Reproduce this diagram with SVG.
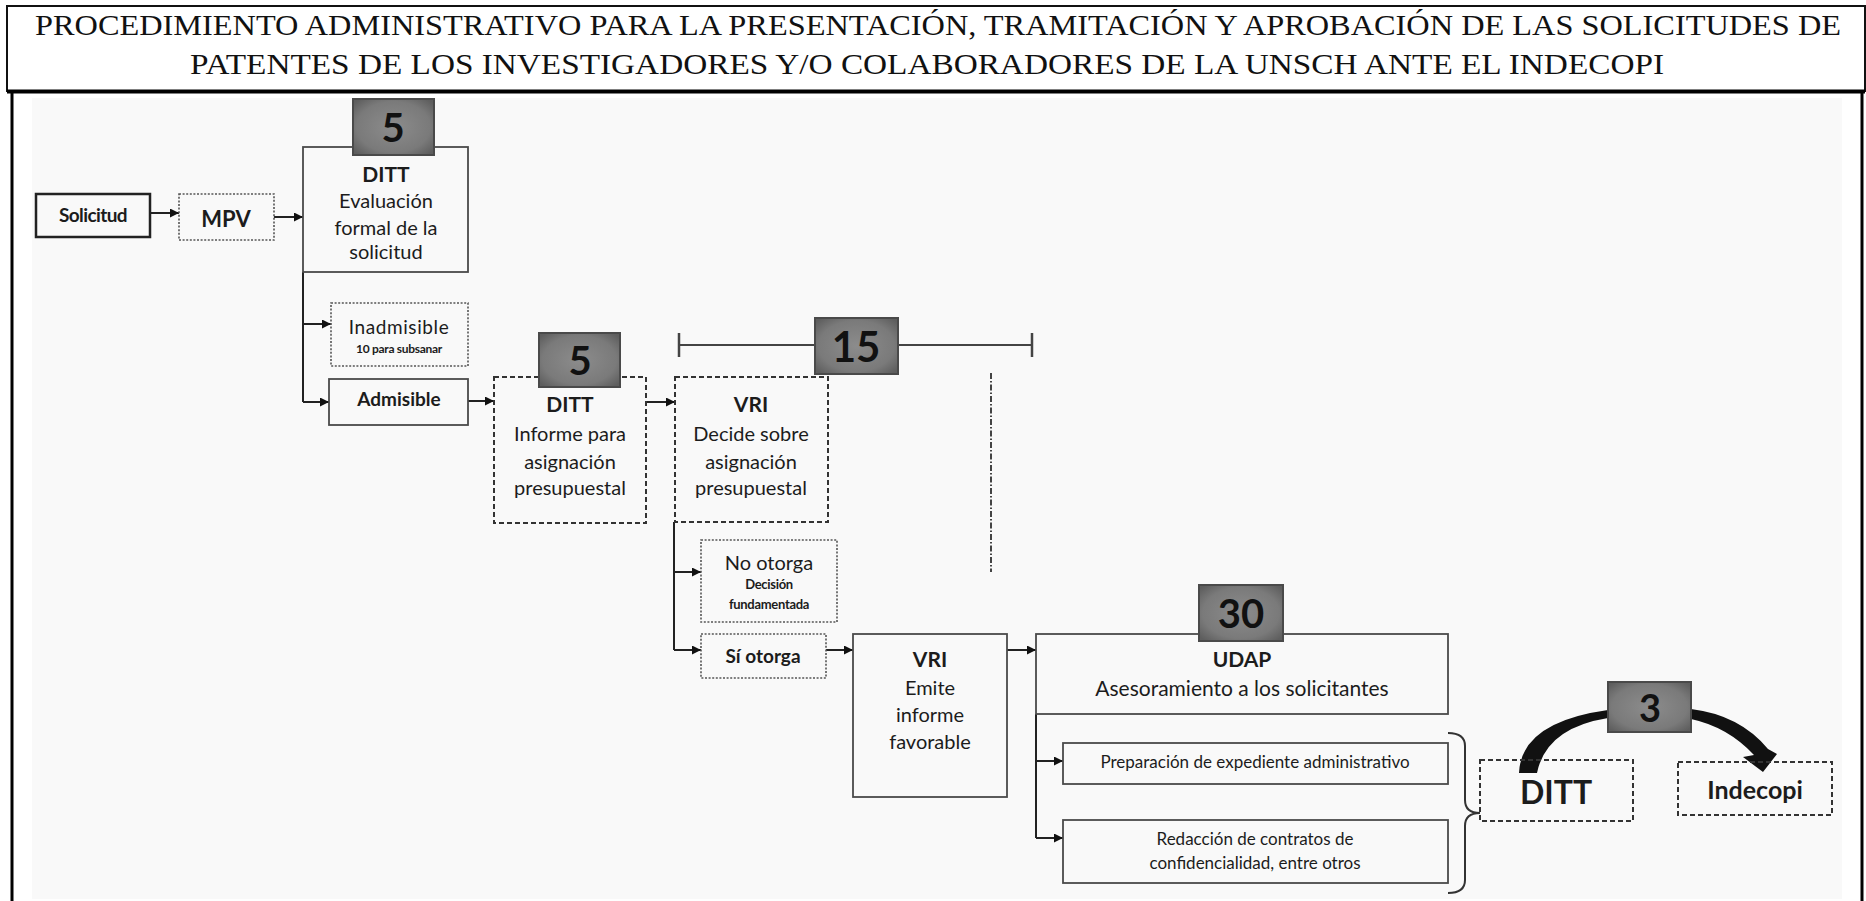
<svg xmlns="http://www.w3.org/2000/svg" width="1866" height="901" viewBox="0 0 1866 901">
<style>
.t{font-family:Lato,"Open Sans","Liberation Sans",sans-serif;fill:#1c1c1c;text-anchor:middle;dominant-baseline:central}
.b{font-weight:bold}
.title{font-family:"Liberation Serif","Times New Roman",serif;font-size:30px;fill:#111}
.solid{fill:none;stroke:#222;stroke-width:2.5}
.thin{fill:none;stroke:#4a4a4a;stroke-width:1.8}
.dot{fill:none;stroke:#555;stroke-width:1.6;stroke-dasharray:2 1.6}
.dash{fill:none;stroke:#333;stroke-width:2;stroke-dasharray:5 3}
.badge{fill:url(#bg);stroke:#4a4a4a;stroke-width:2}
.num{font-family:Lato,"Open Sans","Liberation Sans",sans-serif;font-weight:bold;fill:#111;text-anchor:middle;dominant-baseline:central}
.con{fill:none;stroke:#222;stroke-width:2}
.arr{marker-end:url(#ah)}
</style>
<defs>
<marker id="ah" markerUnits="userSpaceOnUse" markerWidth="10" markerHeight="9" refX="9" refY="4.5" orient="auto">
<path d="M0,0 L9,4.5 L0,9 z" fill="#111"/>
</marker>
<radialGradient id="bg" cx="50%" cy="50%" r="65%">
<stop offset="0" stop-color="#8c8c8c"/>
<stop offset="0.7" stop-color="#7a7a7a"/>
<stop offset="1" stop-color="#5e5e5e"/>
</radialGradient>
</defs>
<rect x="0" y="0" width="1866" height="901" fill="#ffffff"/>
<g id="header">
<rect x="7" y="6" width="1858" height="85" fill="none" stroke="#111" stroke-width="2"/>
<text class="title" x="35" y="35" textLength="1806" lengthAdjust="spacingAndGlyphs">PROCEDIMIENTO ADMINISTRATIVO PARA LA PRESENTACIÓN, TRAMITACIÓN Y APROBACIÓN DE LAS SOLICITUDES DE</text>
<text class="title" x="190" y="74" textLength="1474" lengthAdjust="spacingAndGlyphs">PATENTES DE LOS INVESTIGADORES Y/O COLABORADORES DE LA UNSCH ANTE EL INDECOPI</text>
</g>
<g id="frame">
<line x1="7" y1="91.5" x2="1865" y2="91.5" stroke="#000" stroke-width="4"/>
<line x1="12" y1="92" x2="12" y2="901" stroke="#000" stroke-width="3"/>
<line x1="1862" y1="92" x2="1862" y2="901" stroke="#000" stroke-width="3"/>
<rect x="32" y="98" width="1810" height="801" fill="#f9f9f9"/>
</g>
<g id="connectors">
<line class="con arr" x1="150" y1="213" x2="179" y2="213"/>
<line class="con arr" x1="274" y1="217" x2="303" y2="217"/>
<polyline class="con" points="303,272 303,402"/>
<line class="con arr" x1="303" y1="324" x2="331" y2="324"/>
<line class="con arr" x1="303" y1="402" x2="329" y2="402"/>
<line class="con arr" x1="468" y1="401" x2="494" y2="401"/>
<line class="con arr" x1="646" y1="402" x2="675" y2="402"/>
<polyline class="con" points="674,522 674,650"/>
<line class="con arr" x1="674" y1="572" x2="701" y2="572"/>
<line class="con arr" x1="674" y1="650" x2="701" y2="650"/>
<line class="con arr" x1="826" y1="650" x2="853" y2="650"/>
<line class="con arr" x1="1007" y1="650" x2="1036" y2="650"/>
<polyline class="con" points="1036,714 1036,838"/>
<line class="con arr" x1="1036" y1="761" x2="1063" y2="761"/>
<line class="con arr" x1="1036" y1="838" x2="1063" y2="838"/>
<line x1="679" y1="345" x2="1032" y2="345" stroke="#444" stroke-width="2"/>
<line x1="679" y1="333" x2="679" y2="357" stroke="#444" stroke-width="2.5"/>
<line x1="1032" y1="333" x2="1032" y2="357" stroke="#444" stroke-width="2.5"/>
<line x1="991" y1="373" x2="991" y2="572" stroke="#444" stroke-width="2" stroke-dasharray="6 2 1.5 2"/>
<path d="M1448,733 Q1465,733 1465,746 L1465,800 Q1465,813 1480,813 Q1465,813 1465,826 L1465,880 Q1465,893 1448,893" fill="none" stroke="#333" stroke-width="2"/>
<path d="M1519,773 Q1521,722 1608,710 L1608,718 Q1546,728 1537,773 Z" fill="#111"/>
<path d="M1691,709 Q1740,715 1768,749 L1777,754 L1763,772 L1743,757 L1754,755 Q1728,727 1691,719 Z" fill="#111"/>
</g>
<g id="n-solicitud">
<rect class="solid" x="36" y="194" width="114" height="43"/>
<text class="t b" x="93" y="214" font-size="19" letter-spacing="-0.6">Solicitud</text>
</g>
<g id="n-mpv">
<rect class="dot" x="179" y="194" width="95" height="46"/>
<text class="t b" x="226" y="218" font-size="22" fill="#333">MPV</text>
</g>
<g id="n-ditt1">
<rect class="thin" x="303" y="147" width="165" height="125"/>
<rect class="badge" x="353" y="99" width="81" height="56"/>
<text class="num" x="393" y="127" font-size="40">5</text>
<text class="t b" x="386" y="173" font-size="21">DITT</text>
<text class="t" x="386" y="200" font-size="20">Evaluación</text>
<text class="t" x="386" y="227" font-size="20">formal de la</text>
<text class="t" x="386" y="251" font-size="20">solicitud</text>
</g>
<g id="n-inadmisible">
<rect class="dot" x="331" y="303" width="137" height="63"/>
<text class="t" x="399" y="326" font-size="19" letter-spacing="0.6">Inadmisible</text>
<text class="t b" x="399" y="348" font-size="12" letter-spacing="-0.3">10 para subsanar</text>
</g>
<g id="n-admisible">
<rect class="thin" x="329" y="379" width="139" height="46"/>
<text class="t b" x="399" y="398" font-size="19">Admisible</text>
</g>
<g id="n-ditt2">
<rect class="dash" x="494" y="377" width="152" height="146"/>
<rect class="badge" x="539" y="333" width="81" height="54"/>
<text class="num" x="580" y="360" font-size="40">5</text>
<text class="t b" x="570" y="403" font-size="21">DITT</text>
<text class="t" x="570" y="433" font-size="20">Informe para</text>
<text class="t" x="570" y="461" font-size="20">asignación</text>
<text class="t" x="570" y="487" font-size="20">presupuestal</text>
</g>
<g id="n-vri1">
<rect class="dash" x="675" y="377" width="153" height="145"/>
<rect class="badge" x="815" y="318" width="83" height="56"/>
<text class="num" x="856" y="346" font-size="42">15</text>
<text class="t b" x="751" y="403" font-size="21">VRI</text>
<text class="t" x="751" y="433" font-size="20">Decide sobre</text>
<text class="t" x="751" y="461" font-size="20">asignación</text>
<text class="t" x="751" y="487" font-size="20">presupuestal</text>
</g>
<g id="n-nootorga">
<rect class="dot" x="701" y="540" width="136" height="82"/>
<text class="t" x="769" y="562" font-size="20">No otorga</text>
<text class="t b" x="769" y="584" font-size="13" letter-spacing="-0.3">Decisión</text>
<text class="t b" x="769" y="604" font-size="13" letter-spacing="-0.3">fundamentada</text>
</g>
<g id="n-siotorga">
<rect class="dot" x="701" y="634" width="125" height="44"/>
<text class="t b" x="763" y="655" font-size="19">Sí otorga</text>
</g>
<g id="n-vri2">
<rect class="thin" x="853" y="634" width="154" height="163"/>
<text class="t b" x="930" y="658" font-size="21">VRI</text>
<text class="t" x="930" y="687" font-size="20">Emite</text>
<text class="t" x="930" y="714" font-size="20">informe</text>
<text class="t" x="930" y="741" font-size="20">favorable</text>
</g>
<g id="n-udap">
<rect class="thin" x="1036" y="634" width="412" height="80"/>
<rect class="badge" x="1199" y="585" width="84" height="56"/>
<text class="num" x="1241" y="613" font-size="40">30</text>
<text class="t b" x="1242" y="658" font-size="21">UDAP</text>
<text class="t" x="1242" y="687" font-size="21">Asesoramiento a los solicitantes</text>
</g>
<g id="n-preparacion">
<rect class="thin" x="1063" y="743" width="385" height="41"/>
<text class="t" x="1255" y="761" font-size="17">Preparación de expediente administrativo</text>
</g>
<g id="n-redaccion">
<rect class="thin" x="1063" y="820" width="385" height="63"/>
<text class="t" x="1255" y="838" font-size="17">Redacción de contratos de</text>
<text class="t" x="1255" y="862" font-size="17">confidencialidad, entre otros</text>
</g>
<g id="n-ditt3">
<rect class="dash" x="1480" y="760" width="153" height="61"/>
<text class="t b" x="1556" y="791" font-size="32">DITT</text>
</g>
<g id="n-badge3">
<rect class="badge" x="1608" y="682" width="83" height="50"/>
<text class="num" x="1650" y="707" font-size="38">3</text>
</g>
<g id="n-indecopi">
<rect class="dash" x="1678" y="762" width="154" height="53"/>
<text class="t b" x="1755" y="789" font-size="25">Indecopi</text>
</g>
</svg>
